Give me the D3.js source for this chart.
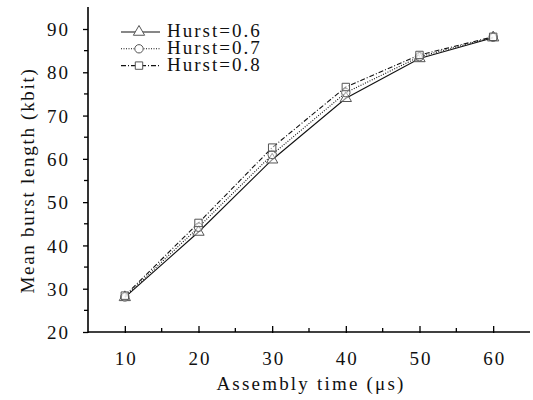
<!DOCTYPE html>
<html>
<head>
<meta charset="utf-8">
<script src="https://cdn.jsdelivr.net/npm/d3@7"></script>
<style>
body{margin:0;background:#fff}
text{font-family:"Liberation Serif","Times New Roman",serif;fill:#111}
</style>
</head>
<body>
<svg id="chart"></svg>
<script>
// assembly time (us)
var times = [10,20,30,40,50,60]
var hurst06 = [28,43.1,59.8,74.0,83.2,88.0]
var hurst07 = [28.1,44.2,61.0,75.3,83.6,88.1]
var hurst08 = [28.4,45.2,62.6,76.6,84.0,88.2]
var seriesNames = ["Hurst=0.6","Hurst=0.7","Hurst=0.8"]
var xTicks = [10,20,30,40,50,60]
var yTicks = [20,30,40,50,60,70,80,90]

var screen = {width:533,height:400}
var margins = {left:88,right:3,top:7,bottom:67}

var svg = d3.select("#chart")
    .attr("width",screen.width)
    .attr("height",screen.height)

var xScale = d3.scaleLinear()
    .domain([5,65])
    .range([margins.left,screen.width-margins.right])

// y axis: 20 sits at 332, 90 at 29
var yScale = d3.scaleLinear()
    .domain([20,90])
    .range([332,29])

var series = [
    {name:seriesNames[0],vals:hurst06,dash:null,shape:d3.symbolTriangle},
    {name:seriesNames[1],vals:hurst07,dash:"1,1.5",shape:d3.symbolCircle},
    {name:seriesNames[2],vals:hurst08,dash:"5,2,1,2",shape:d3.symbolSquare}
]

// axes
var xAxis = d3.axisBottom(xScale).tickValues(xTicks).tickSize(-6).tickPadding(20).tickFormat(d3.format("d"))
var xg = svg.append("g")
    .attr("transform","translate(0,"+yScale(20)+")")
    .call(xAxis)
xg.select(".domain").attr("d","M"+margins.left+",0H"+(screen.width-margins.right)).attr("stroke-width",1.6)
xg.selectAll(".tick line").attr("y1",1).attr("stroke-width",1.3)

var xMinor = d3.range(15,65,10)
svg.append("g").selectAll("line")
    .data(xMinor)
    .enter()
    .append("line")
    .attr("x1",function(d){return xScale(d)})
    .attr("x2",function(d){return xScale(d)})
    .attr("y1",yScale(20))
    .attr("y2",yScale(20)-4)
    .attr("stroke","#000")
    .attr("stroke-width",1.3)

var yAxis = d3.axisLeft(yScale).tickValues(yTicks).tickSize(6).tickPadding(12).tickFormat(d3.format("d"))
var yg = svg.append("g")
    .attr("transform","translate("+margins.left+",0)")
    .call(yAxis)
yg.select(".domain").attr("d","M0,"+(yScale(20)+1)+"V"+margins.top).attr("stroke-width",1.6)
yg.selectAll(".tick line").attr("x2",-5).attr("x1",0).attr("stroke-width",1.3)

var yMinor = d3.range(25,95,10)
svg.append("g").selectAll("line")
    .data(yMinor)
    .enter()
    .append("line")
    .attr("x1",margins.left)
    .attr("x2",margins.left-4)
    .attr("y1",function(d){return yScale(d)})
    .attr("y2",function(d){return yScale(d)})
    .attr("stroke","#000")
    .attr("stroke-width",1.3)

svg.selectAll(".tick text")
    .style("font-size","19px")
    .style("letter-spacing","2px")
    .style("font-family","Liberation Serif")
xg.selectAll(".tick text").attr("dy","0.71em").attr("dx","1px")
yg.selectAll(".tick text").attr("dy","0.35em")

// lines
var line = d3.line()
    .x(function(d,i){return xScale(times[i])})
    .y(function(d){return yScale(d)})

series.forEach(function(s){
    svg.append("path")
        .datum(s.vals)
        .attr("d",line)
        .attr("fill","none")
        .attr("stroke","#111")
        .attr("stroke-width",1.1)
        .attr("stroke-dasharray",s.dash)
})

series.forEach(function(s){
    svg.append("g").selectAll("path")
        .data(s.vals)
        .enter()
        .append("path")
        .attr("transform",function(d,i){return "translate("+xScale(times[i])+","+yScale(d)+")"})
        .attr("d",d3.symbol().type(s.shape).size(55))
        .attr("fill","#fff")
        .attr("fill-opacity",0.5)
        .attr("stroke","#555")
        .attr("stroke-width",1)
})

// legend
var legend = svg.append("g")
series.forEach(function(s,i){
    var y = 32+i*16.8
    legend.append("line")
        .attr("x1",121).attr("x2",160)
        .attr("y1",y).attr("y2",y)
        .attr("stroke","#111")
        .attr("stroke-width",1.1)
        .attr("stroke-dasharray",s.dash)
    legend.append("path")
        .attr("transform","translate(139,"+y+")")
        .attr("d",d3.symbol().type(s.shape).size(55))
        .attr("fill","#fff")
        .attr("stroke","#555")
    legend.append("text")
        .attr("x",167)
        .attr("y",y+5)
        .style("font-size","19px")
        .style("letter-spacing","2px")
        .text(s.name)
})

// titles
svg.append("text")
    .attr("x",xScale(35)+2)
    .attr("y",390)
    .attr("text-anchor","middle")
    .style("font-size","19px")
    .style("letter-spacing","2.2px")
    .text("Assembly time (\u03bcs)")

svg.append("text")
    .attr("transform","translate(34,"+yScale(55)+") rotate(-90)")
    .attr("text-anchor","middle")
    .style("font-size","19px")
    .style("letter-spacing","1.7px")
    .text("Mean burst length (kbit)")
</script>
</body>
</html>
